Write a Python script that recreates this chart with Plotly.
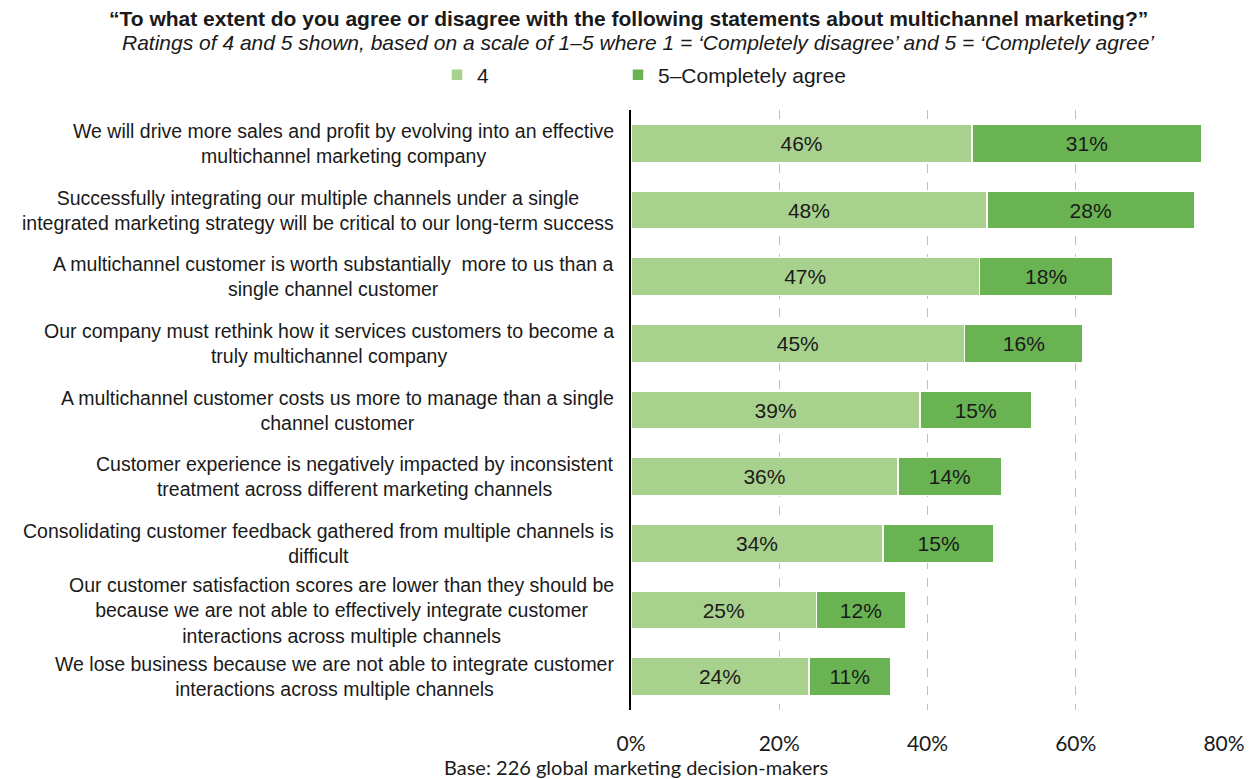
import plotly.graph_objects as go

categories = [
    "We will drive more sales and profit by evolving into an effective<br>multichannel marketing company",
    "Successfully integrating our multiple channels under a single<br>integrated marketing strategy will be critical to our long-term success",
    "A multichannel customer is worth substantially  more to us than a<br>single channel customer",
    "Our company must rethink how it services customers to become a<br>truly multichannel company",
    "A multichannel customer costs us more to manage than a single<br>channel customer",
    "Customer experience is negatively impacted by inconsistent<br>treatment across different marketing channels",
    "Consolidating customer feedback gathered from multiple channels is<br>difficult",
    "Our customer satisfaction scores are lower than they should be<br>because we are not able to effectively integrate customer<br>interactions across multiple channels",
    "We lose business because we are not able to integrate customer<br>interactions across multiple channels",
]
rating4 = [46, 48, 47, 45, 39, 36, 34, 25, 24]
rating5 = [31, 28, 18, 16, 15, 14, 15, 12, 11]
series_names = ["4", "5\u2013Completely agree"]
tick_values = [0, 20, 40, 60, 80]
tick_labels = ["0%", "20%", "40%", "60%", "80%"]

FONT = "Liberation Sans, Arial, sans-serif"
FONT2 = "Lato, Carlito, Calibri, sans-serif"
LIGHT = "#A9D18E"
DARK = "#69B352"
TXT = "#1a1a1a"

OFF = 8  # page body margin
W, H = 1257 - OFF, 779 - OFF
ML, MR, MT, MB = 623, 30, 102, 69
PW, PH = W - ML - MR, H - MT - MB


def px_x(sx):
    return (sx - OFF - ML) / PW


def px_y(sy):
    return (H - MB - (sy - OFF)) / PH


ids = list(range(len(categories)))

fig = go.Figure()
for name, vals, col, lg in [(series_names[0], rating4, LIGHT, "legend"),
                            (series_names[1], rating5, DARK, "legend2")]:
    fig.add_trace(go.Bar(
        y=ids, x=vals, name=name, orientation="h", legend=lg,
        marker=dict(color=col, line=dict(color="white", width=1.5)),
        text=[f"{v}%" for v in vals], textposition="inside",
        insidetextanchor="middle", textangle=0,
        textfont=dict(family=FONT, size=21, color=TXT),
        width=0.57, hoverinfo="skip",
    ))

for i, c in enumerate(categories):
    fig.add_annotation(
        x=0, xref="paper", xanchor="right", xshift=-15,
        y=i, yref="y", yanchor="middle",
        text=c, showarrow=False, align="center",
        font=dict(family=FONT, size=19.5, color=TXT),
    )

fig.add_annotation(
    x=px_x(628), xref="paper", y=px_y(18), yref="paper", yanchor="middle",
    text="<b>\u201cTo what extent do you agree or disagree with the following statements about multichannel marketing?\u201d</b>",
    showarrow=False, xanchor="center",
    font=dict(family=FONT, size=21, color=TXT),
)
fig.add_annotation(
    x=px_x(638), xref="paper", y=px_y(42), yref="paper", yanchor="middle",
    text="<i>Ratings of 4 and 5 shown, based on a scale of 1\u20135 where 1 = \u2018Completely disagree\u2019 and 5 = \u2018Completely agree\u2019</i>",
    showarrow=False, xanchor="center",
    font=dict(family=FONT, size=21, color=TXT),
)
fig.add_annotation(
    x=px_x(636), xref="paper", y=px_y(767), yref="paper", yanchor="middle",
    text="Base: 226 global marketing decision-makers",
    showarrow=False, xanchor="center",
    font=dict(family=FONT2, size=20, color=TXT),
)

legend_common = dict(
    orientation="h", xref="container", xanchor="left",
    y=1 - (75 - OFF) / H, yref="container", yanchor="middle",
    font=dict(family=FONT, size=21, color=TXT),
    itemwidth=30, bgcolor="rgba(0,0,0,0)",
)

fig.update_layout(
    width=W, height=H,
    margin=dict(l=ML, r=MR, t=MT, b=MB),
    paper_bgcolor="white", plot_bgcolor="white",
    barmode="stack",
    showlegend=True,
    legend=dict(x=(437 - OFF) / W, **legend_common),
    legend2=dict(x=(618 - OFF) / W, **legend_common),
    xaxis=dict(
        range=[0, 80], tickvals=tick_values, ticktext=tick_labels,
        showgrid=True, gridcolor="#C0C0C0", griddash="dash", gridwidth=1,
        zeroline=False, showline=False,
        tickfont=dict(family=FONT2, size=21, color=TXT),
        ticklabelstandoff=19, fixedrange=True,
    ),
    yaxis=dict(
        range=[len(categories) - 0.5, -0.5],
        tickvals=ids, showticklabels=False,
        showgrid=False, zeroline=False,
        showline=True, linecolor="black", linewidth=2,
        fixedrange=True,
    ),
)

fig.write_html("out.html")
